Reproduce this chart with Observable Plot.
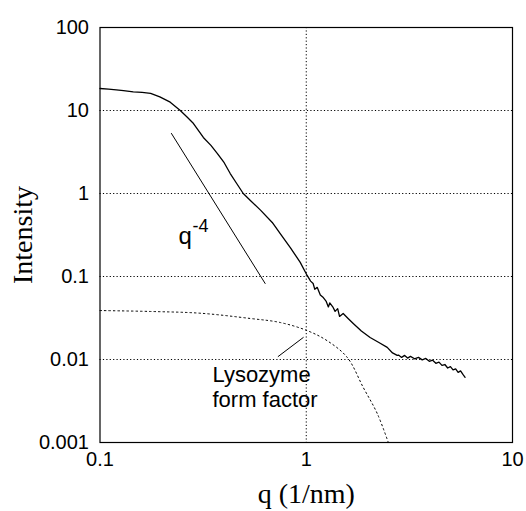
<!DOCTYPE html>
<html>
<head>
<meta charset="utf-8">
<script src="https://cdn.jsdelivr.net/npm/d3@7"></script>
<script src="https://cdn.jsdelivr.net/npm/@observablehq/plot@0.6"></script>
<style>
  html, body { margin: 0; padding: 0; background: #fff; }
  #chart svg { display: block; }
</style>
</head>
<body>
<div id="chart"></div>
<script>
// Measured scattering curve (q in 1/nm, intensity)
const mainQ = [0.100, 0.110, 0.120, 0.130, 0.145, 0.160, 0.176, 0.195, 0.219, 0.245, 0.265, 0.284, 0.317, 0.345, 0.371, 0.400, 0.428, 0.460, 0.495, 0.536, 0.600, 0.684, 0.760, 0.837, 0.935, 1.01, 1.05, 1.08, 1.10, 1.13, 1.17, 1.21, 1.25, 1.28, 1.30, 1.35, 1.38, 1.42, 1.45, 1.51, 1.60, 1.69, 1.85, 2.04, 2.25, 2.47, 2.62, 2.76, 2.80, 2.90, 3.00, 3.10, 3.20, 3.35, 3.50, 3.65, 3.80, 3.95, 4.10, 4.25, 4.40, 4.55, 4.70, 4.85, 5.00, 5.15, 5.30, 5.45, 5.60, 5.75, 5.89];
const mainI = [18.4, 18.1, 17.7, 17.4, 16.8, 16.5, 16.1, 14.6, 12.6, 10.0, 8.3, 6.97, 4.73, 3.8, 3.03, 2.35, 1.74, 1.32, 1.0, 0.824, 0.63, 0.448, 0.31, 0.223, 0.148, 0.103, 0.088, 0.0824, 0.070, 0.074, 0.060, 0.0558, 0.050, 0.043, 0.048, 0.0424, 0.038, 0.041, 0.033, 0.0358, 0.031, 0.0272, 0.022, 0.0184, 0.016, 0.0140, 0.0120, 0.0112, 0.0113, 0.0106, 0.0112, 0.0104, 0.0109, 0.0102, 0.0106, 0.0099, 0.0103, 0.0095, 0.0098, 0.0090, 0.0093, 0.0085, 0.0087, 0.0079, 0.0082, 0.0075, 0.0077, 0.0070, 0.0073, 0.0066, 0.0061];

// Lysozyme form factor (dotted)
const ffQ = [0.100, 0.176, 0.307, 0.536, 0.748, 1.01, 1.26, 1.58, 1.89, 2.21, 2.50];
const ffI = [0.0389, 0.0379, 0.0361, 0.0312, 0.0279, 0.0223, 0.0169, 0.0106, 0.0046, 0.00223, 0.001];

// q^-4 guide line
const slopeQ = [0.222, 0.632];
const slopeI = [5.29, 0.0824];

// pointer from label to form factor
const pointerQ = [0.731, 0.967];
const pointerI = [0.01087, 0.0184];

// ticks
const xTicks = [0.1, 1, 10];
const yTicks = [0.001, 0.01, 0.1, 1, 10, 100];
const xGrid = [1];
const yGrid = [0.01, 0.1, 1, 10];

const xTitle = "q (1/nm)";
const yTitle = "Intensity";
const ffLabel = ["Lysozyme", "form factor"];
const ffLabelAnchor = {q: 0.351, i: 0.0105};
const slopeLabelAnchor = {q: 0.240, i: 0.245};

const zip = (xs, ys) => xs.map((x, k) => ({x, y: ys[k]}));
const mainData = zip(mainQ, mainI);
const ffData = zip(ffQ, ffI);
const slopeData = zip(slopeQ, slopeI);
const pointerData = zip(pointerQ, pointerI);

const sans = "'Liberation Sans', Arial, Helvetica, sans-serif";
const serif = "'Liberation Serif', 'Times New Roman', Times, serif";

const chart = Plot.plot({
  width: 526,
  height: 511,
  marginLeft: 99.5,
  marginRight: 14,
  marginTop: 27,
  marginBottom: 69,
  style: {fontFamily: sans, fontSize: "20px", color: "black", background: "white"},
  x: {type: "log", domain: [0.1, 10]},
  y: {type: "log", domain: [0.001, 100]},
  marks: [
    Plot.ruleY(yGrid, {stroke: "black", strokeWidth: 1, strokeDasharray: "1.2,2.2"}),
    Plot.ruleX(xGrid, {stroke: "black", strokeWidth: 1, strokeDasharray: "1.2,2.2"}),
    Plot.line(ffData, {x: "x", y: "y", curve: "catmull-rom", stroke: "black", strokeWidth: 1, strokeDasharray: "1.5,3"}),
    Plot.line(slopeData, {x: "x", y: "y", stroke: "black", strokeWidth: 1}),
    Plot.line(pointerData, {x: "x", y: "y", stroke: "black", strokeWidth: 1}),
    Plot.line(mainData, {x: "x", y: "y", stroke: "black", strokeWidth: 1.3}),
    Plot.frame({stroke: "black", strokeWidth: 1.2}),
    Plot.axisX({ticks: xTicks, tickFormat: d => String(d), tickSize: 0, tickPadding: 9, label: null, fontSize: 20}),
    Plot.axisY({ticks: yTicks, tickFormat: d => String(d), tickSize: 0, tickPadding: 11, label: null, fontSize: 20}),
    Plot.text([ffLabel[0]], {x: ffLabelAnchor.q, y: ffLabelAnchor.i, textAnchor: "start", lineAnchor: "top", dy: 9, fontSize: 22, fill: "black"}),
    Plot.text([ffLabel[1]], {x: ffLabelAnchor.q, y: ffLabelAnchor.i, textAnchor: "start", lineAnchor: "top", dy: 34, fontSize: 22, fill: "black"}),
    Plot.text(["q"], {x: slopeLabelAnchor.q, y: slopeLabelAnchor.i, textAnchor: "start", lineAnchor: "bottom", fontSize: 24, fill: "black"}),
    Plot.text(["-4"], {x: slopeLabelAnchor.q, y: slopeLabelAnchor.i, textAnchor: "start", lineAnchor: "bottom", dx: 14, dy: -12, fontSize: 18, fill: "black"}),
    Plot.text([xTitle], {frameAnchor: "bottom", dy: 60, fontFamily: serif, fontSize: 28, fill: "black"}),
    Plot.text([yTitle], {frameAnchor: "left", dx: -77, rotate: -90, textAnchor: "middle", fontFamily: serif, fontSize: 28, fill: "black"})
  ]
});
document.getElementById("chart").appendChild(chart);
</script>
</body>
</html>
